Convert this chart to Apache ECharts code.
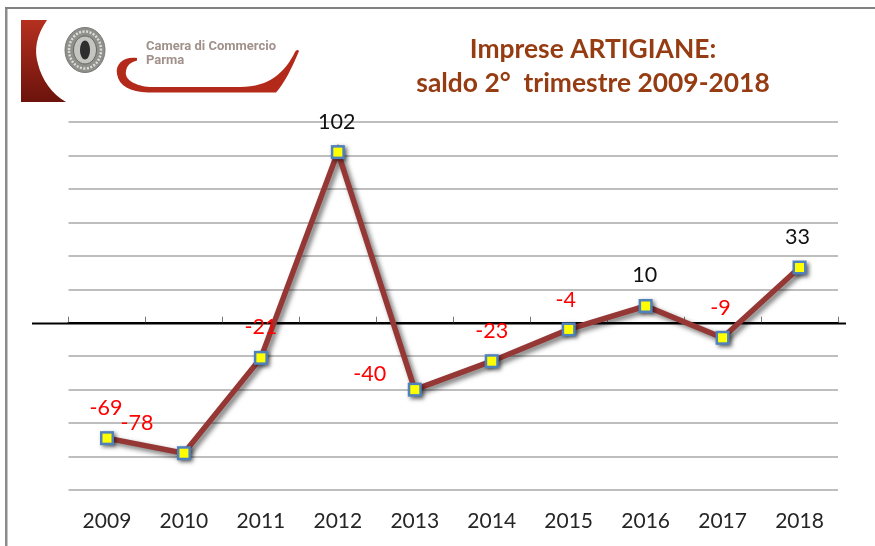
<!DOCTYPE html>
<html>
<head>
<meta charset="utf-8">
<style>html,body{margin:0;padding:0;background:#fff}#c{width:875px;height:546px}</style>
<script src="https://cdn.jsdelivr.net/npm/echarts@6/dist/echarts.min.js"></script>
</head>
<body>
<div id="c"></div>
<script>
const years = ['2009','2010','2011','2012','2013','2014','2015','2016','2017','2018'];
const saldo = [-69,-78,-21,102,-40,-23,-4,10,-9,33];
const titleLines = ['Imprese ARTIGIANE:','saldo 2°  trimestre 2009-2018'];
const labelShift = [[-1,-10],[-47,-10],[0,-10],[-1,-10],[-45,5],[0,-10],[-3,-9],[-1,-10],[-2,-9],[-2,-10]];

echarts.graphic.registerShape('logoCrescent', echarts.graphic.extendPath('M21 20 L47 20 C36 36 34 50 38 64 C42 80 52 94 66 102 L21 102 Z'));
echarts.graphic.registerShape('logoSwoosh', echarts.graphic.extendPath('M137 58 C124 56 115 64 117 74 C119 86 130 92 148 92.5 L276 92.5 C284 84 292 68 299 51 C298 49 296 50 295 52 C285 72 270 87 240 87 L150 87 C136 86 124 80 126 71 C127 65 131 62 137 60.5 Z'));

const chart = echarts.init(document.getElementById('c'), null, {renderer:'canvas'});
const FONT = 'Lato, "Open Sans", sans-serif';
chart.setOption({
  animation:false,
  backgroundColor:'#fff',
  title:{
    text:titleLines.join('\n'),
    left:588, top:27, textAlign:'center',
    textStyle:{fontFamily:FONT,fontWeight:'bold',fontSize:26.4,lineHeight:34,color:'#963c12'}
  },
  grid:{left:68.5,top:122,width:769.5,height:368,containLabel:false},
  xAxis:[
    {type:'category',data:years,position:'bottom',boundaryGap:true,
     axisLine:{onZero:false,show:false},axisTick:{show:false},
     axisLabel:{show:true,margin:21,fontFamily:FONT,fontSize:21,color:'#262626'},splitLine:{show:false}},
    {type:'category',data:years,boundaryGap:true,
     axisLine:{show:true,onZero:true,lineStyle:{color:'#000',width:2}},
     axisTick:{show:true,length:6,alignWithLabel:false,lineStyle:{color:'#777777',width:1}},
     axisLabel:{show:false},splitLine:{show:false}}
  ],
  yAxis:{type:'value',min:-100,max:120,interval:20,
    axisLine:{show:false},axisTick:{show:false},axisLabel:{show:false},
    splitLine:{show:true,lineStyle:{color:'#a9a9a9',width:1.5}}},
  series:[{
    type:'line',xAxisIndex:0,z:5,
    symbol:'rect',symbolSize:14,showSymbol:true,
    lineStyle:{color:'#953735',width:5.5,shadowColor:'rgba(0,0,0,0.55)',shadowBlur:5,shadowOffsetX:3,shadowOffsetY:3,cap:'round',join:'miter'},
    itemStyle:{color:'#4f81bd',shadowColor:'rgba(0,0,0,0.55)',shadowBlur:4,shadowOffsetX:2,shadowOffsetY:2},
    data:saldo
  },{
    type:'line',xAxisIndex:0,z:6,
    symbol:'rect',symbolSize:9,showSymbol:true,
    lineStyle:{width:0,opacity:0},
    itemStyle:{color:'#ffff00'},
    data:saldo.map((v,i)=>({
      value:v,
      label:{show:true,position:'top',distance:5,offset:labelShift[i],
        fontFamily:FONT,fontSize:21.5,color:v<0?'#ff0000':'#111111',formatter:'{c}'}
    }))
  }],
  graphic:[
    {type:'rect',z:0,silent:true,shape:{x:5,y:7,width:2.5,height:539},style:{fill:'#8c8c8c'}},
    {type:'rect',z:0,silent:true,shape:{x:5,y:7,width:870,height:2},style:{fill:'#808080'}},
    {type:'line',z:3,silent:true,shape:{x1:32,y1:323.5,x2:846,y2:323.5},style:{stroke:'#000',lineWidth:2}},
    {type:'logoCrescent',z:1,silent:true,
      style:{fill:new echarts.graphic.LinearGradient(0,0,0,1,[{offset:0,color:'#b5301f'},{offset:1,color:'#6b130c'}])}},
    {type:'ellipse',z:1,silent:true,shape:{cx:85,cy:50,rx:20,ry:22.5},style:{fill:'#8f8f8b',stroke:'#7a7a78',lineWidth:1}},
    {type:'ellipse',z:2,silent:true,shape:{cx:85,cy:50,rx:16,ry:18.5},style:{fill:'none',stroke:'#dcdcd8',lineWidth:2.5,lineDash:[2,1.5]}},
    {type:'ellipse',z:2,silent:true,shape:{cx:85,cy:50,rx:11.5,ry:14},style:{fill:'#c4c4c0',stroke:'#666',lineWidth:1}},
    {type:'ellipse',z:2,silent:true,shape:{cx:85,cy:50,rx:5,ry:9.5},style:{fill:'#2e2e2e'}},
    {type:'text',z:2,silent:true,style:{x:146,y:40,text:'Camera di Commercio',fontFamily:'"Liberation Sans Narrow",Roboto,sans-serif',fontWeight:'bold',fontSize:13,fill:'#a0918a'}},
    {type:'text',z:2,silent:true,style:{x:146,y:54,text:'Parma',fontFamily:'"Liberation Sans Narrow",Roboto,sans-serif',fontWeight:'bold',fontSize:13,fill:'#a0918a'}},
    {type:'logoSwoosh',z:1,silent:true,style:{fill:'#b32a1a'}}
  ]
});
</script>
</body>
</html>
